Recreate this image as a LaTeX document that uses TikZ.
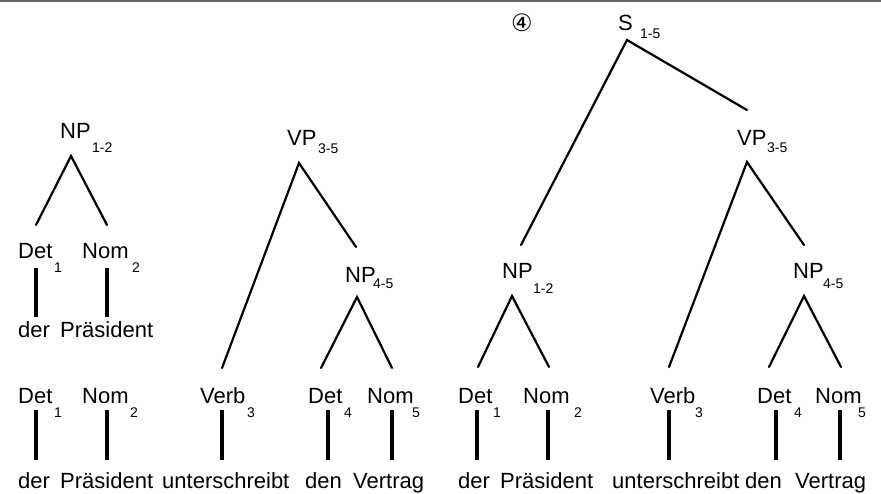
\documentclass[tikz,border=0pt]{standalone}
\usepackage{fontspec}
\setmainfont{Liberation Sans}
\newfontfamily\symfont{DejaVu Sans}
\begin{document}
\begin{tikzpicture}[x=1pt,y=-1pt,
  w/.style={font=\fontsize{22}{26}\selectfont, inner sep=0pt, anchor=base west},
  sb/.style={font=\fontsize{14}{16}\selectfont, inner sep=0pt, anchor=base west},
  edge/.style={line width=2.2pt, line cap=round},
  bar/.style={line width=4pt},
  topline/.style={line width=2pt, draw={rgb,255:red,100;green,100;blue,100}}]
\useasboundingbox (0,0) rectangle (881,493);
\coordinate (tl) at (0,1);
\coordinate (tr) at (881,1);
\draw[topline] (tl) -- (tr);

% ---------- Tree 1: NP 1-2 ----------
\node[w] (a-np) at (60,138) {NP};
\node[sb] (a-nps) at (92,152) {1-2};
\node[w] (a-det) at (18,258) {Det};
\node[sb] (a-dets) at (54,272) {1};
\node[w] (a-nom) at (82,258) {Nom};
\node[sb] (a-noms) at (132,272) {2};
\node[w] (a-der) at (18,337) {der};
\node[w] (a-pr) at (60,337) {Präsident};
\coordinate (a-apex) at (71,156);
\coordinate (a-l) at (36,225);
\coordinate (a-r) at (107,225);
\draw[edge] (a-l) -- (a-apex) -- (a-r);
\coordinate (a-b1t) at (36,268); \coordinate (a-b1b) at (36,317);
\coordinate (a-b2t) at (107,268); \coordinate (a-b2b) at (107,317);
\draw[bar] (a-b1t) -- (a-b1b);
\draw[bar] (a-b2t) -- (a-b2b);

% ---------- Bottom row left ----------
\node[w] (b-det1) at (18,403) {Det};
\node[sb] (b-det1s) at (54,417) {1};
\node[w] (b-nom2) at (82,403) {Nom};
\node[sb] (b-nom2s) at (130,417) {2};
\node[w] (b-verb3) at (200,403) {Verb};
\node[sb] (b-verb3s) at (247,417) {3};
\node[w] (b-det4) at (308,403) {Det};
\node[sb] (b-det4s) at (344,417) {4};
\node[w] (b-nom5) at (367,403) {Nom};
\node[sb] (b-nom5s) at (412,417) {5};
\node[w] (b-w1) at (18,488) {der};
\node[w] (b-w2) at (60,488) {Präsident};
\node[w] (b-w3) at (162,488) {unterschreibt};
\node[w] (b-w4) at (305,488) {den};
\node[w] (b-w5) at (353,488) {Vertrag};
\foreach \n/\x in {1/36,2/107,3/222,4/328,5/392}{
  \coordinate (b-t\n) at (\x,410);
  \coordinate (b-b\n) at (\x,460);
  \draw[bar] (b-t\n) -- (b-b\n);
}

% ---------- Middle tree: VP 3-5 ----------
\node[w] (c-vp) at (287,145) {VP};
\node[sb] (c-vps) at (318,153) {3-5};
\node[w] (c-np) at (345,282) {NP};
\node[sb] (c-nps) at (373,288) {4-5};
\coordinate (c-apex) at (299,163);
\coordinate (c-l) at (222,368);
\coordinate (c-r) at (356,247);
\draw[edge] (c-l) -- (c-apex) -- (c-r);
\coordinate (c-apex2) at (357,297);
\coordinate (c-l2) at (321,368);
\coordinate (c-r2) at (392,368);
\draw[edge] (c-l2) -- (c-apex2) -- (c-r2);

% ---------- Right tree: S 1-5 ----------
\node[inner sep=0pt, font=\symfont\fontsize{24}{28}\selectfont] (d-circ) at (522,23) {④};
\node[w] (d-s) at (618,30) {S};
\node[sb] (d-ss) at (640,38) {1-5};
\coordinate (d-apex) at (627,40);
\coordinate (d-l) at (521,245);
\coordinate (d-r) at (747,110);
\draw[edge] (d-l) -- (d-apex) -- (d-r);
\node[w] (d-vp) at (737,145) {VP};
\node[sb] (d-vps) at (767,152) {3-5};
\coordinate (d-apex2) at (747,162);
\coordinate (d-l2) at (669,367);
\coordinate (d-r2) at (804,245);
\draw[edge] (d-l2) -- (d-apex2) -- (d-r2);
\node[w] (d-np1) at (502,278) {NP};
\node[sb] (d-np1s) at (533,293) {1-2};
\coordinate (d-apex3) at (512,296);
\coordinate (d-l3) at (478,367);
\coordinate (d-r3) at (549,367);
\draw[edge] (d-l3) -- (d-apex3) -- (d-r3);
\node[w] (d-np2) at (793,278) {NP};
\node[sb] (d-np2s) at (823,288) {4-5};
\coordinate (d-apex4) at (804,296);
\coordinate (d-l4) at (769,367);
\coordinate (d-r4) at (841,367);
\draw[edge] (d-l4) -- (d-apex4) -- (d-r4);

% ---------- Bottom row right ----------
\node[w] (e-det1) at (458,403) {Det};
\node[sb] (e-det1s) at (493,417) {1};
\node[w] (e-nom2) at (523,403) {Nom};
\node[sb] (e-nom2s) at (574,417) {2};
\node[w] (e-verb3) at (650,403) {Verb};
\node[sb] (e-verb3s) at (695,417) {3};
\node[w] (e-det4) at (757,403) {Det};
\node[sb] (e-det4s) at (794,417) {4};
\node[w] (e-nom5) at (815,403) {Nom};
\node[sb] (e-nom5s) at (858,417) {5};
\node[w] (e-w1) at (458,488) {der};
\node[w] (e-w2) at (500,488) {Präsident};
\node[w] (e-w3) at (612,488) {unterschreibt};
\node[w] (e-w4) at (745,488) {den};
\node[w] (e-w5) at (795,488) {Vertrag};
\foreach \n/\x in {1/477,2/548,3/669,4/776,5/840}{
  \coordinate (e-t\n) at (\x,410);
  \coordinate (e-b\n) at (\x,460);
  \draw[bar] (e-t\n) -- (e-b\n);
}
\end{tikzpicture}
\end{document}
